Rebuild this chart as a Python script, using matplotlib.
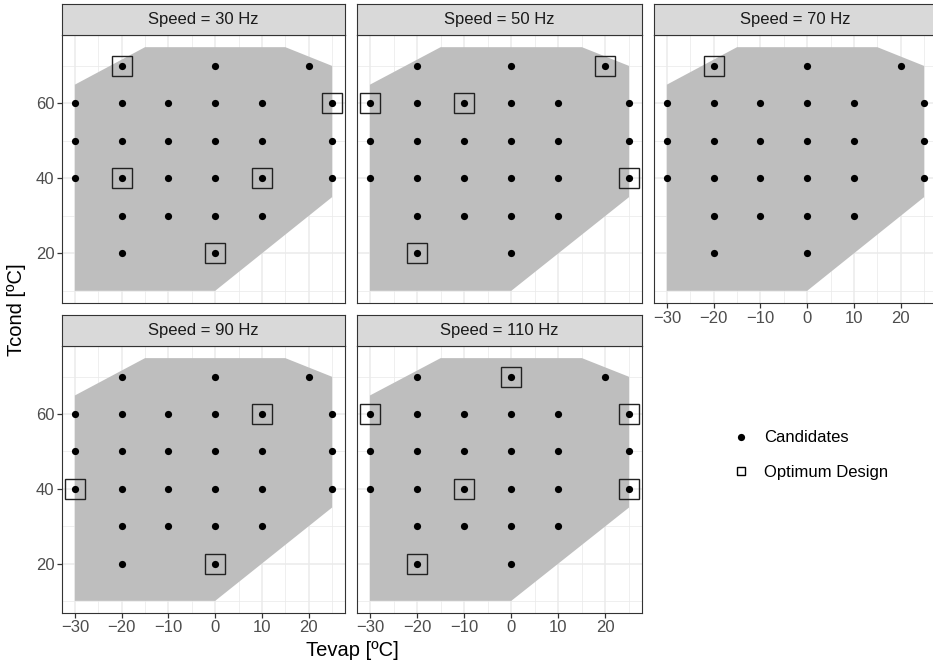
import matplotlib
matplotlib.use("Agg")
import matplotlib.pyplot as plt
from matplotlib.lines import Line2D
from matplotlib.patches import Polygon

plt.rcParams["font.family"] = ["Liberation Sans", "DejaVu Sans"]

# Operating envelope of the compressor (Tevap, Tcond)
ENV_TEVAP = [-30, -30, -15, 15, 25, 25, 0]
ENV_TCOND = [10, 65, 75, 75, 70, 35, 10]

# Candidate test points (same grid for every speed)
CAND_TEVAP = [-20, 0, 20,
              -30, -20, -10, 0, 10, 25,
              -30, -20, -10, 0, 10, 25,
              -30, -20, -10, 0, 10, 25,
              -20, -10, 0, 10,
              -20, 0]
CAND_TCOND = [70, 70, 70,
              60, 60, 60, 60, 60, 60,
              50, 50, 50, 50, 50, 50,
              40, 40, 40, 40, 40, 40,
              30, 30, 30, 30,
              20, 20]

SPEEDS = [30, 50, 70, 90, 110]
OPT_TEVAP = [
    [-20, 25, -20, 10, 0],
    [20, -30, -10, 25, -20],
    [-20],
    [10, -30, 0],
    [0, -30, 25, -10, 25, -20],
]
OPT_TCOND = [
    [70, 60, 40, 40, 20],
    [70, 60, 60, 40, 20],
    [70],
    [60, 40, 20],
    [70, 60, 60, 40, 40, 20],
]

W, H = 933, 665
fig = plt.figure(figsize=(W / 100, H / 100), dpi=100)

# panel boxes in pixels: (left, right, top, bottom)
col_x = [(62, 345), (357, 642), (654, 937)]
row_y = [(35, 303), (346, 613)]
STRIP_H = 31

BORDER = "#333333"


def px_box(x0, x1, y0, y1):
    return [x0 / W, 1 - y1 / H, (x1 - x0) / W, (y1 - y0) / H]


for i, speed in enumerate(SPEEDS):
    r, c = divmod(i, 3)
    x0, x1 = col_x[c]
    y0, y1 = row_y[r]
    ax = fig.add_axes(px_box(x0, x1, y0, y1))
    ax.set_xlim(-32.75, 27.75)
    ax.set_ylim(6.75, 78.25)
    ax.set_xticks([-30, -20, -10, 0, 10, 20])
    ax.set_xticks([-25, -15, -5, 5, 15, 25], minor=True)
    ax.set_yticks([20, 40, 60])
    ax.set_yticks([10, 30, 50, 70], minor=True)
    ax.grid(which="major", color="#EBEBEB", lw=1.1)
    ax.grid(which="minor", color="#EBEBEB", lw=0.55)
    ax.set_axisbelow(True)
    for s in ax.spines.values():
        s.set_color(BORDER)
        s.set_linewidth(0.8)

    ax.add_patch(Polygon(list(zip(ENV_TEVAP, ENV_TCOND)), closed=True,
                         facecolor="#BEBEBE", edgecolor="none", zorder=1))
    ax.plot(CAND_TEVAP, CAND_TCOND, "o", color="black", ms=5.2,
            mec="none", zorder=3, clip_on=False)
    ax.plot(OPT_TEVAP[i], OPT_TCOND[i], "s", mfc="none", mec="#222222",
            mew=1.0, ms=14.5, zorder=4, clip_on=False)

    show_x = (r == 1) or (c == 2)
    show_y = c == 0
    ax.tick_params(which="major", length=3.4, width=0.9, color=BORDER,
                   labelsize=12, labelcolor="#4D4D4D", pad=2,
                   bottom=show_x, labelbottom=show_x,
                   left=show_y, labelleft=show_y)
    ax.tick_params(which="minor", length=0, bottom=False, left=False)

    # facet strip
    sax = fig.add_axes(px_box(x0, x1, y0 - STRIP_H, y0))
    sax.set_facecolor("#D9D9D9")
    sax.set_xticks([])
    sax.set_yticks([])
    for s in sax.spines.values():
        s.set_color(BORDER)
        s.set_linewidth(0.8)
    sax.text(0.5, 0.5, f"Speed = {speed} Hz", ha="center", va="center",
             fontsize=12, color="#1A1A1A", transform=sax.transAxes)

fig.text(0.5 * (62 + 642) / W, 1 - 651 / H, "Tevap [ºC]",
         ha="center", va="center", fontsize=14.5)
fig.text(17 / W, 1 - 310 / H, "Tcond [ºC]", ha="center", va="center",
         rotation=90, fontsize=14.5)

handles = [
    Line2D([], [], ls="none", marker="o", color="black", ms=5.2, mec="none"),
    Line2D([], [], ls="none", marker="s", mfc="none", mec="black",
           mew=1.0, ms=6),
]
fig.legend(handles, ["Candidates", "Optimum Design"], frameon=False,
           loc="center left", bbox_to_anchor=(724 / W, 1 - 455 / H),
           fontsize=12, handlelength=1.0, handletextpad=0.9,
           labelspacing=1.15, borderpad=0)

fig.savefig("out.png", dpi=100)
